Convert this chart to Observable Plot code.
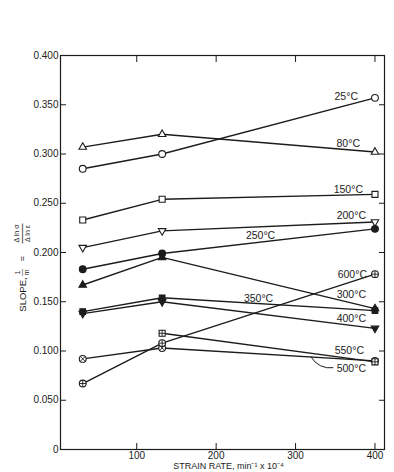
<!DOCTYPE html>
<html>
<head>
<meta charset="utf-8">
<script src="https://cdn.jsdelivr.net/npm/d3@7"></script>
<script src="https://cdn.jsdelivr.net/npm/@observablehq/plot@0.6"></script>
<style>
  html, body { margin: 0; padding: 0; background: #fff; }
  #chart svg { display: block; }
</style>
</head>
<body>
<div id="chart"></div>
<script>
// Strain rate (min^-1 x 10^-4) at which the slope was measured
const strainRate = [32, 132, 400];

// Test temperatures, one curve each
const temperatures = ["25°C", "80°C", "150°C", "200°C", "250°C", "300°C", "350°C", "400°C", "500°C", "550°C", "600°C"];

// Slope 1/m = Δ ln σ / Δ ln ε at each strain rate
const slope25  = [0.285, 0.300, 0.357];
const slope80  = [0.307, 0.320, 0.302];
const slope150 = [0.233, 0.254, 0.259];
const slope200 = [0.205, 0.222, 0.231];
const slope250 = [0.183, 0.199, 0.224];
const slope300 = [0.167, 0.195, 0.143];
const slope350 = [0.140, 0.154, 0.141];
const slope400 = [0.138, 0.150, 0.123];
const slope500 = [0.092, 0.103, 0.090];
const slope550 = [null, 0.118, 0.089];
const slope600 = [0.067, 0.108, 0.178];

const xTicks = [100, 200, 300, 400];
const yTicks = [0, 0.05, 0.1, 0.15, 0.2, 0.25, 0.3, 0.35, 0.4];

const slopes = [slope25, slope80, slope150, slope200, slope250, slope300,
                slope350, slope400, slope500, slope550, slope600];

// Downward-pointing triangle symbol
const triangleDown = {
  draw(context, size) {
    const s3 = Math.sqrt(3);
    const y = -Math.sqrt(size / (s3 * 3));
    context.moveTo(0, -y * 2);
    context.lineTo(-s3 * y, y);
    context.lineTo(s3 * y, y);
    context.closePath();
  }
};

const ink = "#1c1c1c";

// Marker and label placement for each curve
const styles = {
  "25°C":  {symbol: "circle",   fill: "white", r: 3.4, label: {at: "end", dx: -17, dy: -1}},
  "80°C":  {symbol: "triangle", fill: "white", r: 2.8, label: {at: "end", dx: -15, dy: -8.5}},
  "150°C": {symbol: "square",   fill: "white", r: 3.4, label: {at: "end", dx: -12, dy: -5}},
  "200°C": {symbol: triangleDown, fill: "white", r: 2.8, label: {at: "end", dx: -9, dy: -6}},
  "250°C": {symbol: "circle",   fill: ink, r: 3.4, label: {at: "mid", dx: -8, dy: -6}},
  "300°C": {symbol: "triangle", fill: ink, r: 2.8, label: {at: "end", dx: -9, dy: -14}},
  "350°C": {symbol: "square",   fill: ink, r: 3.2, label: {at: "mid", dx: -10, dy: -6}},
  "400°C": {symbol: triangleDown, fill: ink, r: 2.8, label: {at: "end", dx: -9, dy: -10}},
  "500°C": {symbol: "circle",   fill: "white", r: 3.4, overlay: "times", label: {at: "end", dx: -9, dy: 7.5}},
  "550°C": {symbol: "square",   fill: "white", r: 3.4, overlay: "plus",  label: {at: "end", dx: -11, dy: -11.5}},
  "600°C": {symbol: "circle",   fill: "white", r: 3.4, overlay: "plus",  label: {at: "end", dx: -8, dy: 0}}
};

const rows = temperatures.flatMap((t, i) =>
  slopes[i].map((v, j) => ({temp: t, x: strainRate[j], y: v})).filter(d => d.y != null)
);

const marks = [];

// Axes with inward ticks on all four sides
marks.push(Plot.axisX(xTicks, {anchor: "bottom", tickSize: -6, tickPadding: 8, label: null, fontSize: 10}));
marks.push(Plot.axisX(xTicks, {anchor: "top", tickSize: -6, tickFormat: () => "", label: null}));
marks.push(Plot.axisY(yTicks, {anchor: "left", tickSize: -6, tickPadding: 8, label: null, fontSize: 10,
  tickFormat: d => d === 0 ? "0" : d.toFixed(3)}));
marks.push(Plot.axisY(yTicks, {anchor: "right", tickSize: -6, tickFormat: () => "", label: null}));
marks.push(Plot.frame({stroke: ink, strokeWidth: 1.2}));

// Curves
marks.push(Plot.line(rows, {x: "x", y: "y", z: "temp", stroke: ink, strokeWidth: 1.4}));

// Markers and curve labels
for (const t of temperatures) {
  const st = styles[t];
  const pts = rows.filter(d => d.temp === t);
  marks.push(Plot.dot(pts, {x: "x", y: "y", symbol: st.symbol, r: st.r, fill: st.fill, stroke: ink, strokeWidth: 1.1}));
  if (st.overlay) {
    marks.push(Plot.dot(pts, {x: "x", y: "y", symbol: st.overlay, r: 2.3, stroke: ink, strokeWidth: 0.9}));
  }
  const last = pts[pts.length - 1];
  if (st.label.at === "end") {
    marks.push(Plot.text([last], {x: "x", y: "y", text: () => t, textAnchor: "end",
      dx: st.label.dx, dy: st.label.dy, fontSize: 10.5, fill: ink}));
  } else {
    const prev = pts[pts.length - 2];
    const mid = {x: (prev.x + last.x) / 2, y: (prev.y + last.y) / 2};
    marks.push(Plot.text([mid], {x: "x", y: "y", text: () => t, textAnchor: "middle",
      dx: st.label.dx, dy: st.label.dy, fontSize: 10.5, fill: ink}));
  }
}

// Leader from the 500°C curve to its label
{
  const p = rows.filter(d => d.temp === "500°C");
  const a = p[1], b = p[2], f = 0.7;
  const leader = {
    x1: a.x + f * (b.x - a.x), y1: a.y + f * (b.y - a.y),
    x2: b.x - 53, y2: b.y - 0.007
  };
  marks.push(Plot.arrow([leader], {x1: "x1", y1: "y1", x2: "x2", y2: "y2",
    bend: -35, headLength: 0, stroke: ink, strokeWidth: 1}));
}

// Axis titles
marks.push(Plot.text(["STRAIN RATE, min⁻¹ x 10⁻⁴"], {frameAnchor: "bottom", text: d => d,
  lineAnchor: "top", dx: 6, dy: 13.5, fontSize: 9, fill: ink}));

const yTitle = [
  {text: "SLOPE,", dx: -38, dy: 42, size: 9.5},
  {text: "1", dx: -43, dy: 20, size: 7},
  {text: "—", dx: -38.5, dy: 20, size: 7},
  {text: "m", dx: -33.5, dy: 20, size: 7},
  {text: "=", dx: -38, dy: 6, size: 9},
  {text: "Δ ln σ", dx: -44, dy: -19, size: 7},
  {text: "——", dx: -38.5, dy: -19, size: 10},
  {text: "Δ ln ε", dx: -33, dy: -19, size: 7}
];
for (const piece of yTitle) {
  marks.push(Plot.text([piece.text], {frameAnchor: "left", text: d => d, rotate: -90,
    textAnchor: "middle", lineAnchor: "middle", dx: piece.dx, dy: piece.dy, fontSize: piece.size, fill: ink}));
}

const chart = Plot.plot({
  width: 394,
  height: 472,
  marginLeft: 60,
  marginRight: 10,
  marginTop: 55,
  marginBottom: 23,
  style: {fontFamily: "'Liberation Sans', Arial, sans-serif", fontSize: "10px", color: ink, background: "white"},
  x: {domain: [4, 412]},
  y: {domain: [0, 0.4]},
  marks
});
document.getElementById("chart").appendChild(chart);
</script>
</body>
</html>
